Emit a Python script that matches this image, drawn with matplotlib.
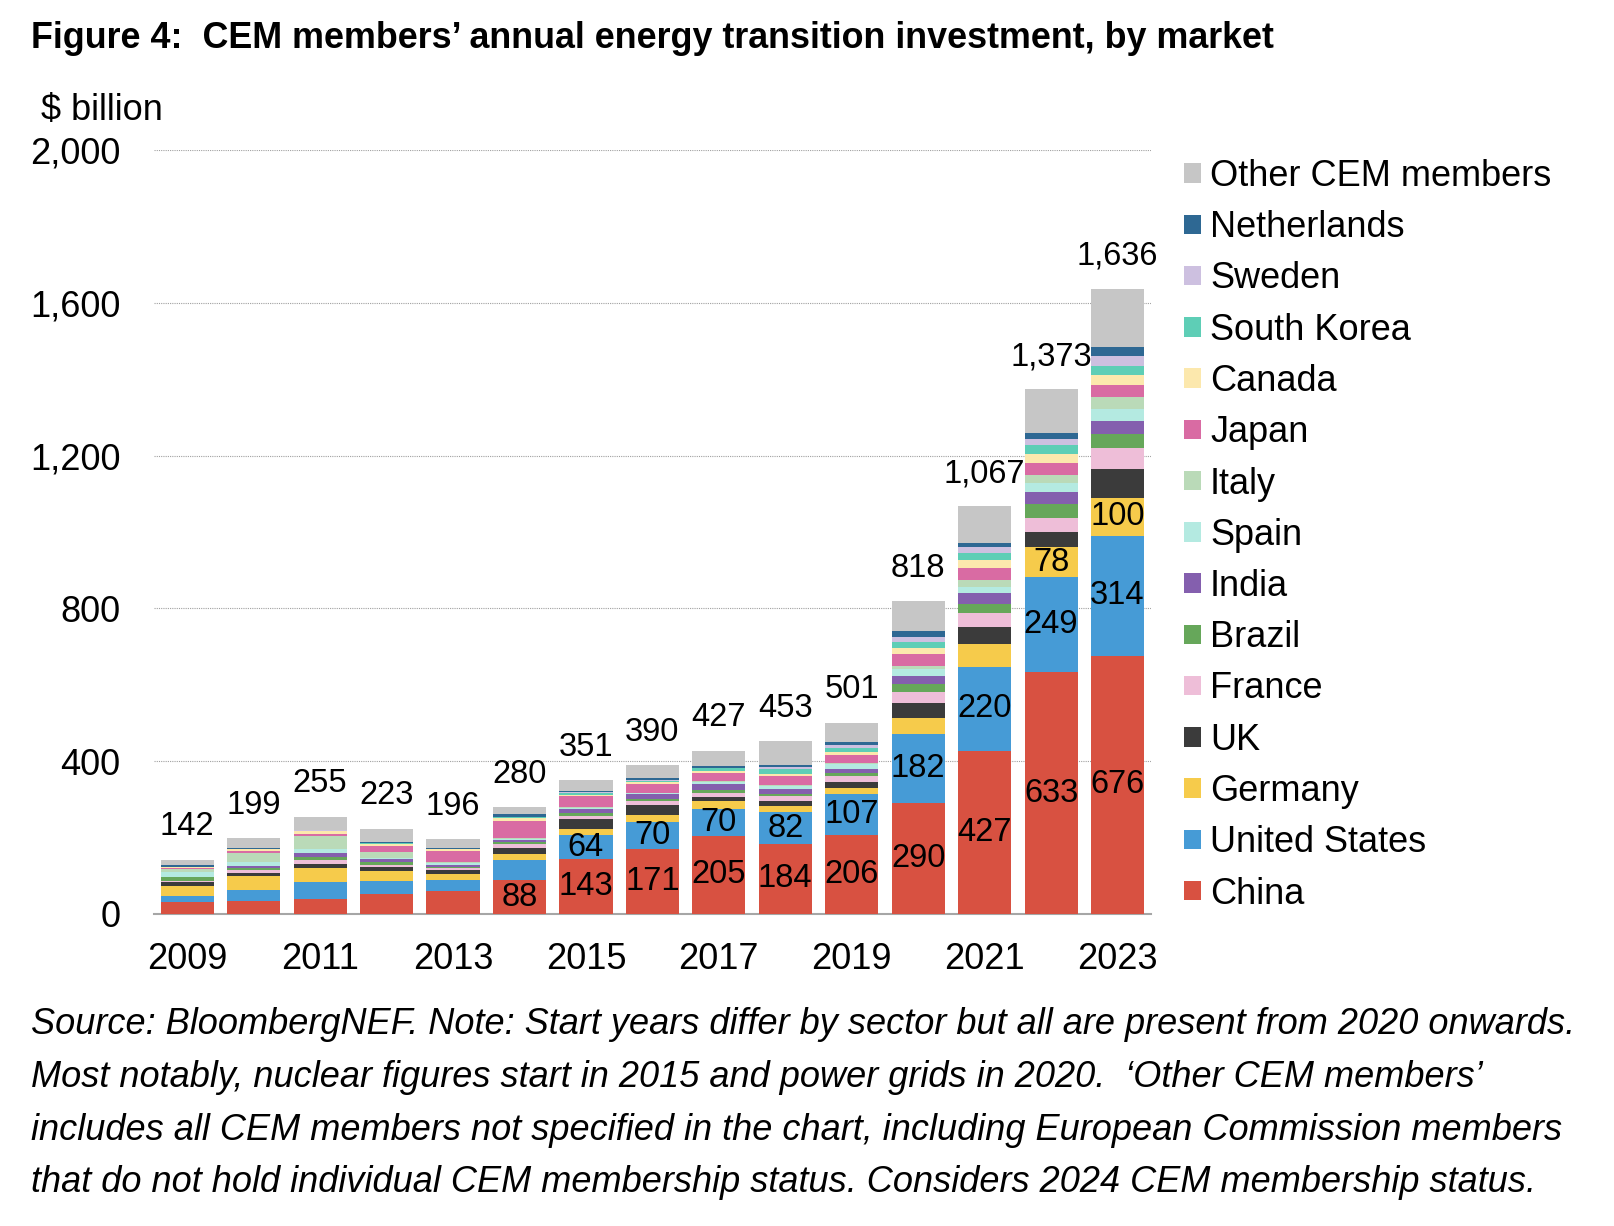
import matplotlib
matplotlib.use("Agg")
import matplotlib.pyplot as plt
import numpy as np

plt.rcParams['font.family'] = ['Liberation Sans', 'DejaVu Sans']

years = [2009, 2010, 2011, 2012, 2013, 2014, 2015, 2016, 2017, 2018, 2019, 2020, 2021, 2022, 2023]
totals = [142, 199, 255, 223, 196, 280, 351, 390, 427, 453, 501, 818, 1067, 1373, 1636]

# stacked series, bottom to top
china = [32, 34, 39, 52, 60, 88, 143, 171, 205, 184, 206, 290, 427, 633, 676]
usa = [16, 29, 44, 34, 29, 54, 64, 70, 70, 82, 107, 182, 220, 249, 314]
germany = [25, 37, 37, 26, 16, 16, 16, 18, 21, 16, 16, 42, 60, 78, 100]
uk = [11, 8, 10, 10, 10, 16, 26, 26, 10, 13, 16, 39, 44, 39, 75]
france = [3, 8, 10, 5, 5, 10, 8, 10, 10, 13, 16, 29, 37, 37, 55]
brazil = [9, 5, 10, 8, 3, 5, 8, 5, 8, 5, 8, 21, 23, 37, 37]
india = [2, 5, 10, 8, 5, 5, 9, 13, 16, 13, 10, 21, 29, 31, 34]
spain = [12, 10, 10, 3, 5, 3, 3, 3, 5, 10, 13, 16, 16, 23, 31]
italy = [7, 23, 34, 16, 2, 2, 2, 2, 2, 2, 2, 10, 18, 23, 31]
japan = [3, 5, 5, 16, 29, 44, 29, 23, 23, 23, 23, 31, 31, 31, 31]
canada = [2, 5, 8, 5, 5, 8, 3, 5, 3, 5, 8, 16, 21, 23, 26]
korea = [1, 1, 1, 3, 1, 3, 7, 3, 8, 13, 10, 16, 18, 23, 25]
sweden = [1, 1, 1, 1, 1, 1, 1, 2, 2, 5, 8, 13, 16, 16, 26]
netherlands = [5, 1, 1, 1, 3, 8, 3, 5, 5, 5, 8, 16, 10, 16, 22]
other = [13, 27, 35, 35, 22, 17, 29, 34, 39, 64, 50, 76, 97, 114, 153]

names = ["China", "United States", "Germany", "UK", "France", "Brazil", "India",
         "Spain", "Italy", "Japan", "Canada", "South Korea", "Sweden",
         "Netherlands", "Other CEM members"]
series = [china, usa, germany, uk, france, brazil, india, spain, italy, japan,
          canada, korea, sweden, netherlands, other]
colors = ["#D85141", "#469BD6", "#F6CB4B", "#3B3B3B", "#EEBED8", "#66A75A",
          "#845FAE", "#B4EAE1", "#BADAB8", "#D96BA3", "#FCE8AD", "#5ECEB6",
          "#CDC0E0", "#2E6893", "#C6C6C6"]

FS = 26      # axis, legend, notes
LFS = 23.5   # value labels

fig = plt.figure(figsize=(16.14, 12.26), dpi=100)
ax = fig.add_axes([0.0954, 0.2545, 0.6176, 0.6232])

x = np.arange(len(years))
bottom = np.zeros(len(years))
bars = []
for vals, name, col in zip(series, names, colors):
    ax.bar(x, vals, 0.8, bottom=bottom, color=col, label=name, zorder=3)
    bars.append((vals, bottom.copy()))
    bottom += np.array(vals)

# labels inside segments (China from 2014, US from 2015, Germany 2022-23)
def seg_label(vals, bot, start):
    for i in range(start, len(years)):
        ax.text(x[i], bot[i] + vals[i] / 2, str(vals[i]), ha='center', va='center',
                fontsize=LFS, zorder=4)

seg_label(china, bars[0][1], 5)
seg_label(usa, bars[1][1], 6)
seg_label(germany, bars[2][1], 13)

for i, t in enumerate(totals):
    ax.annotate(f"{t:,}", (x[i], bottom[i]), xytext=(0, 12.5), textcoords='offset points',
                ha='center', va='bottom', fontsize=LFS)

ax.set_ylim(0, 2000)
ax.set_xlim(-0.5, len(years) - 0.5)
ax.set_yticks(range(0, 2001, 400))
ax.set_yticklabels([f"{v:,}" for v in range(0, 2001, 400)], fontsize=FS)
ax.set_xticks(x[::2])
ax.set_xticklabels([str(y) for y in years[::2]], fontsize=FS)
ax.tick_params(axis='both', length=0)
ax.tick_params(axis='y', pad=24)
ax.tick_params(axis='x', pad=20)
ax.grid(axis='y', color='#A0A0A0', linestyle=(0, (1, 1)), linewidth=0.8, zorder=0)
for s in ['top', 'right', 'left']:
    ax.spines[s].set_visible(False)
ax.spines['bottom'].set_color('#A6A6A6')
ax.spines['bottom'].set_linewidth(1.5)

handles, labels = ax.get_legend_handles_labels()
leg = fig.legend(handles[::-1], labels[::-1], loc='upper left',
                 bbox_to_anchor=(1184 / 1614, 1 - 159 / 1226), frameon=False,
                 fontsize=FS, borderpad=0, borderaxespad=0, labelspacing=0.45,
                 handlelength=0.46, handleheight=0.46, handletextpad=0.26)

fig.text(31 / 1614, 1 - 39 / 1226,
         "Figure 4:  CEM members\u2019 annual energy transition investment, by market",
         fontsize=25.8, fontweight='bold', ha='left', va='center')
fig.text(41 / 1614, 1 - 110 / 1226, "$ billion", fontsize=FS, ha='left', va='center')

note = ["Source: BloombergNEF. Note: Start years differ by sector but all are present from 2020 onwards.",
        "Most notably, nuclear figures start in 2015 and power grids in 2020.  \u2018Other CEM members\u2019",
        "includes all CEM members not specified in the chart, including European Commission members",
        "that do not hold individual CEM membership status. Considers 2024 CEM membership status."]
for k, line in enumerate(note):
    fig.text(31 / 1614, 1 - (1025 + 52.5 * k) / 1226, line, fontsize=FS,
             style='italic', ha='left', va='center')

plt.savefig("out.png", dpi=100)
